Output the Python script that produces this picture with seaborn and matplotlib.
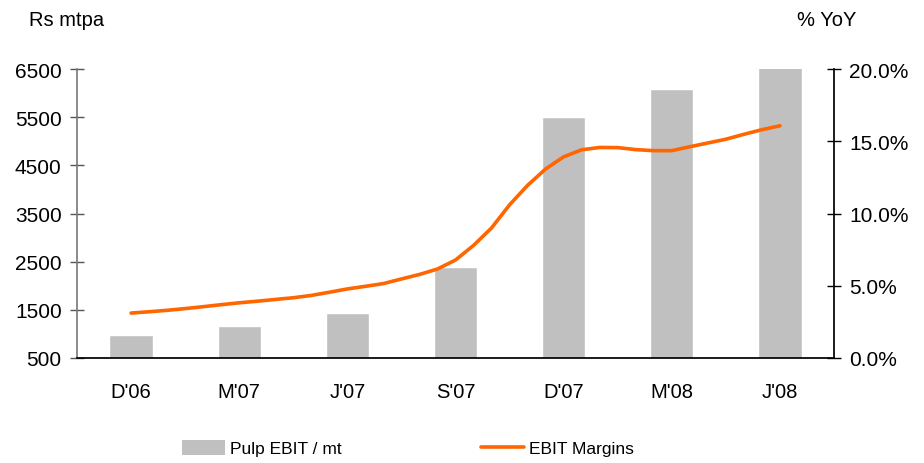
import numpy as np
import pandas as pd
import matplotlib
matplotlib.use("Agg")
import matplotlib.pyplot as plt
import seaborn as sns
from matplotlib.patches import Patch
from matplotlib.lines import Line2D
from matplotlib.ticker import FuncFormatter

categories = ["D'06", "M'07", "J'07", "S'07", "D'07", "M'08", "J'08"]
pulp_ebit = [980, 1170, 1440, 2380, 5510, 6090, 6560]
# EBIT margin (%), read every half month from Dec'06 to Jun'08
ebit_margin = [3.11, 3.20, 3.30, 3.42, 3.55, 3.69, 3.82, 3.93, 4.05, 4.17,
               4.33, 4.55, 4.78, 4.96, 5.15, 5.47, 5.78, 6.16, 6.78, 7.79,
               9.00, 10.60, 11.95, 13.08, 13.92, 14.41, 14.57, 14.56, 14.42,
               14.35, 14.35, 14.62, 14.88, 15.14, 15.48, 15.80, 16.07]
left_ticks = [500, 1500, 2500, 3500, 4500, 5500, 6500]
right_ticks = [0, 5, 10, 15, 20]

sns.set_theme(style="white")
plt.rcParams["font.family"] = ["Liberation Sans", "DejaVu Sans"]
plt.rcParams["text.color"] = "black"
plt.rcParams["xtick.color"] = "black"
plt.rcParams["ytick.color"] = "black"

fig = plt.figure(figsize=(9.24, 4.64), dpi=100)
ax = fig.add_axes([77/924, 1-359/464, (834-77)/924, (359-70)/464])

df = pd.DataFrame({"cat": categories, "val": pulp_ebit})
sns.barplot(data=df, x="cat", y="val", ax=ax, color="#C0C0C0",
            saturation=1, width=0.4, order=categories)
ax.set_xlim(-0.5, 6.5)
ax.set_ylim(500, 6500)
ax.set_yticks(left_ticks)
ax.set_xlabel("")
ax.set_ylabel("")
ax.set_xticks(range(len(categories)))
ax.set_xticklabels(categories)
ax.set_xticks(np.arange(-0.5, 7.0, 1.0), minor=True)
ax.tick_params(axis="x", which="major", length=0, pad=17, labelsize=14.5,
               labelcolor="black")
ax.tick_params(axis="x", which="minor", length=10, direction="inout",
               color="black", width=1)
ax.tick_params(axis="y", length=10, direction="inout", width=1,
               color="#555555", labelsize=15, pad=6, left=True,
               labelcolor="black")

ax2 = ax.twinx()
x_line = np.arange(len(ebit_margin)) / 6.0
sns.lineplot(x=x_line, y=ebit_margin, ax=ax2, color="#FF6600", lw=2.6)
ax2.set_ylim(0, 20)
ax2.set_yticks(right_ticks)
ax2.yaxis.set_major_formatter(FuncFormatter(lambda v, p: f"{v:.1f}%"))
ax2.tick_params(axis="y", length=10, direction="inout", width=1,
                color="black", labelsize=15, pad=6, right=True,
                labelcolor="black")
ax2.set_xlim(-0.5, 6.5)

for a in (ax, ax2):
    a.spines["top"].set_visible(False)
ax.spines["left"].set_color("#777777")
ax.spines["left"].set_linewidth(1.2)
ax.spines["bottom"].set_color("black")
ax2.spines["left"].set_visible(False)
ax2.spines["bottom"].set_visible(False)
ax2.spines["right"].set_color("black")
ax.spines["right"].set_visible(False)

fig.text(29/924, 1-20/464, "Rs mtpa", ha="left", va="center", fontsize=14.5)
fig.text(797/924, 1-20/464, "% YoY", ha="left", va="center", fontsize=14.5)

handles = [Patch(facecolor="#C0C0C0", edgecolor="none"),
           Line2D([0], [0], color="#FF6600", lw=2.6)]
fig.legend(handles, ["Pulp EBIT / mt", "EBIT Margins"], ncol=2,
           loc="center left", bbox_to_anchor=(166/924, 1-449/464),
           frameon=False, fontsize=12.5, handlelength=2.5, handleheight=0.95,
           handletextpad=0.3, columnspacing=8.0)

fig.savefig("out.png", dpi=100)
